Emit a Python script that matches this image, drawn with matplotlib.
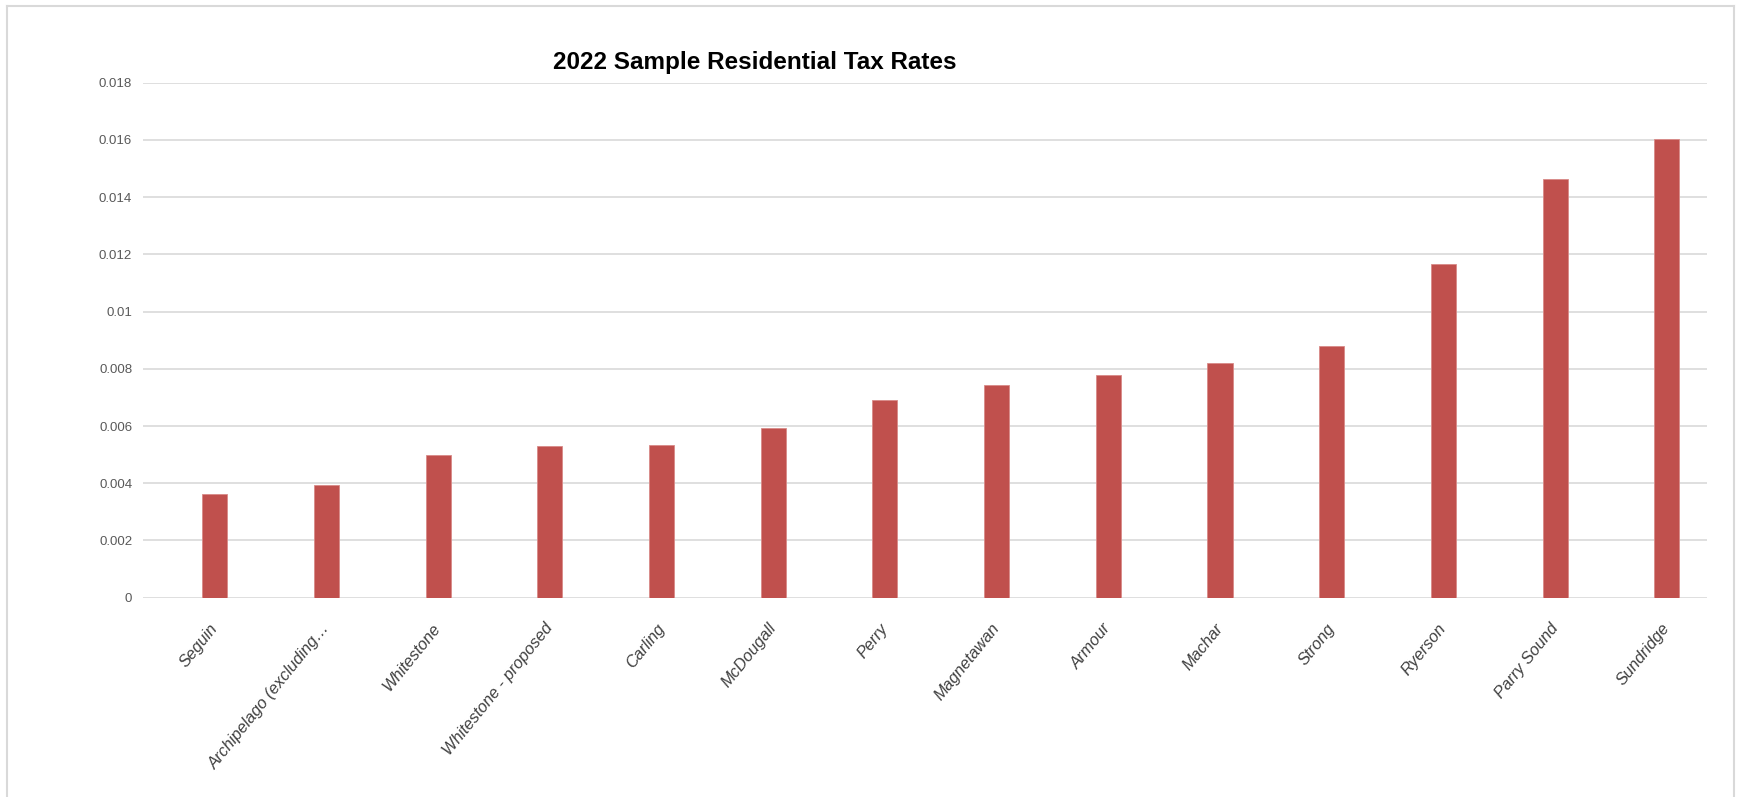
import matplotlib
matplotlib.use("Agg")
import matplotlib.pyplot as plt
from matplotlib.lines import Line2D

categories = ["Seguin", "Archipelago (excluding…", "Whitestone", "Whitestone - proposed",
              "Carling", "McDougall", "Perry", "Magnetawan", "Armour", "Machar",
              "Strong", "Ryerson", "Parry Sound", "Sundridge"]
tax_rates = [0.00361, 0.00394, 0.00500, 0.00529, 0.00532, 0.00592, 0.00692,
             0.00745, 0.00780, 0.00821, 0.00881, 0.01167, 0.01463, 0.01603]
y_ticks = [0, 0.002, 0.004, 0.006, 0.008, 0.01, 0.012, 0.014, 0.016, 0.018]
y_tick_labels = ["0", "0.002", "0.004", "0.006", "0.008", "0.01", "0.012",
                 "0.014", "0.016", "0.018"]
title = "2022 Sample Residential Tax Rates"

fam = ["Liberation Sans Narrow", "Liberation Sans", "DejaVu Sans"]
plt.rcParams["font.family"] = fam

W, H = 1739, 797
fig = plt.figure(figsize=(W / 100, H / 100), dpi=100)
ax = fig.add_axes([143.3 / W, 1 - 597.7 / H, (1707.3 - 143.3) / W, (597.7 - 82.7) / H])

x = list(range(len(categories)))
ax.bar(x, tax_rates, width=0.224, color="#C0504D", edgecolor="#D98A88",
       linewidth=0.6, zorder=3)

ax.set_xlim(-0.64, 13.363)
ax.set_ylim(0, 0.018)
ax.set_yticks(y_ticks)
ax.set_yticklabels(y_tick_labels)
ax.yaxis.grid(True, color="#D9D9D9", linewidth=1.2, zorder=0)
ax.set_axisbelow(True)
for s in ax.spines.values():
    s.set_visible(False)
ax.tick_params(axis="y", length=0, pad=8, labelsize=9.5, labelcolor="#595959")
ax.tick_params(axis="x", length=0, pad=20)
ax.set_xticks(x)
ax.set_xticklabels(categories, rotation=51, ha="right", va="center",
                   rotation_mode="anchor", fontsize=11.8, fontstyle="italic",
                   color="#404040")

fig.text(755 / W, 1 - 62 / H, title, ha="center", va="center",
         fontsize=17.5, fontweight="bold", color="black")

# outer chart frame (left, top, right)
c = "#D9D9D9"
fig.add_artist(Line2D([7 / W, 7 / W], [0, 1 - 6 / H], color=c, linewidth=1.5))
fig.add_artist(Line2D([1734 / W, 1734 / W], [0, 1 - 6 / H], color=c, linewidth=1.5))
fig.add_artist(Line2D([7 / W, 1734 / W], [1 - 6 / H, 1 - 6 / H], color=c, linewidth=1.5))

fig.savefig("out.png", dpi=100)
